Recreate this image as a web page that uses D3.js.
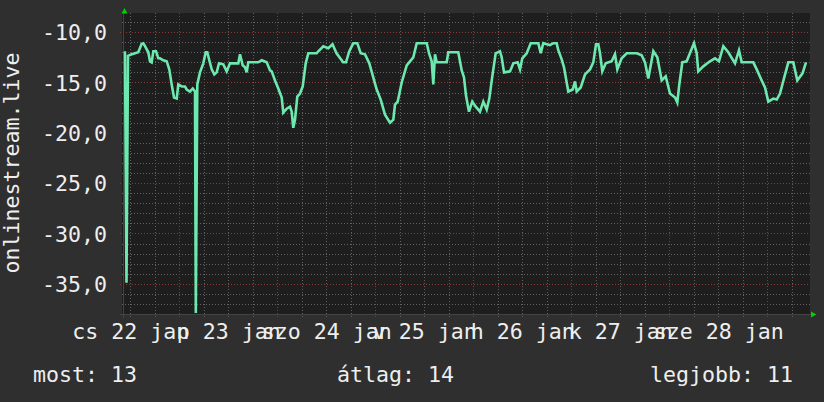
<!DOCTYPE html>
<html><head><meta charset="utf-8">
<script src="https://cdn.jsdelivr.net/npm/d3@7"></script>
<style>
body{margin:0;background:#2f2f2f}
svg{display:block}
text{font-family:"DejaVu Sans Mono",monospace;fill:#eeeeee}
</style>
</head><body>
<svg id="chart" width="824" height="402"></svg>
<script>
// hours after 22 Jan 10:00 and the measured values
const hours = [0.73,1.1,1.47,2.38,3.18,3.99,4.82,5.22,5.63,6.44,6.86,7.27,7.67,8.33,8.89,9.31,10.11,10.95,11.58,12.17,12.74,13.4,13.79,14.62,15.43,15.85,16.65,17.32,17.88,18.08,18.44,19.1,19.91,20.5,20.89,21.38,21.97,22.61,23.19,23.76,24.81,25.64,26.45,28.48,28.9,29.56,30.12,30.54,30.93,33.38,34.21,35.44,36.25,36.66,37.47,38.28,39.11,39.5,40.34,41.15,41.56,41.95,42.37,42.93,43.59,44.26,44.99,45.63,47.68,48.08,49.3,50.53,51.56,52.54,54.16,54.86,55.67,56.65,57.63,58.46,59.51,60.57,61.4,62.38,63.36,64.41,65.64,66.45,66.86,67.52,68.5,69.73,71.34,72.18,74.63,75.19,75.85,76.24,76.66,77.07,79.52,79.92,82.36,83.2,83.76,84.25,84.98,85.79,86.63,87.68,88.49,89.32,89.96,90.69,91.52,92.58,92.99,93.56,95.03,95.84,96.91,97.48,98.04,99.12,100.1,101.96,102.55,103.18,104.82,105.63,106.46,106.85,107.69,108.25,109.3,110.38,110.95,111.36,112.34,113.4,114.62,115.43,116.09,116.65,117.07,117.63,118.46,119.93,120.74,121.31,122.38,123.61,126.06,127.28,128.09,128.9,130.13,131.11,132.18,133.16,134.21,135.44,136.0,136.49,137.23,138.3,139.28,140.09,140.75,141.14,142.37,144.01,145.23,146.21,147.27,148.49,150.13,151.11,151.77,154.61,155.45,156.67,157.48,158.29,159.51,160.35,161.15,162.13,163.19,164.41,165.39,166.67,167.52];
const values = [-11.9,-34.9,-12.35,-12.2,-12.1,-12.0,-11.15,-11.1,-11.4,-12.0,-12.9,-13.0,-11.9,-11.9,-12.6,-12.6,-12.8,-12.9,-13.7,-15.2,-16.5,-16.6,-15.2,-15.4,-15.4,-15.7,-15.9,-15.6,-15.9,-37.9,-15.2,-14.0,-13.1,-12.0,-12.0,-12.8,-13.7,-14.2,-14.0,-13.1,-13.2,-13.9,-13.1,-13.1,-12.2,-13.3,-13.5,-14.0,-13.0,-13.0,-12.8,-13.0,-13.8,-13.9,-14.8,-15.6,-16.5,-18.0,-17.6,-17.4,-17.9,-19.5,-18.7,-16.4,-16.1,-15.4,-13.1,-12.1,-12.1,-11.9,-11.4,-11.6,-11.2,-12.1,-13.0,-13.0,-11.9,-11.1,-11.1,-12.1,-12.2,-13.1,-14.3,-15.7,-16.7,-18.2,-19.0,-18.7,-17.2,-16.9,-15.0,-13.3,-12.5,-11.1,-11.1,-12.1,-12.9,-15.2,-12.2,-13.0,-13.0,-12.0,-12.0,-13.8,-14.5,-16.3,-17.9,-16.9,-17.4,-17.9,-16.9,-17.7,-16.6,-14.4,-12.1,-11.9,-12.5,-14.0,-13.9,-13.1,-13.0,-13.7,-12.6,-12.1,-11.1,-11.1,-12.1,-11.1,-11.3,-11.1,-11.1,-11.8,-12.7,-13.5,-15.9,-15.7,-14.9,-15.9,-15.5,-14.2,-13.7,-13.0,-11.2,-11.2,-12.1,-13.9,-13.1,-12.9,-12.2,-13.7,-12.6,-12.1,-12.1,-12.3,-13.0,-14.6,-11.9,-12.5,-14.8,-14.4,-16.1,-16.5,-17.0,-15.2,-13.0,-12.9,-11.9,-11.1,-12.1,-13.9,-13.4,-12.9,-12.6,-12.9,-11.4,-12.0,-13.1,-11.8,-13.0,-13.0,-13.7,-14.8,-15.5,-16.9,-16.6,-16.7,-16.1,-14.6,-13.0,-13.0,-14.8,-14.1,-13.0];
const yTicks = [-35, -30, -25, -20, -15, -10];
const dayLabels = ["cs 22 jan", "p 23 jan", "szo 24 jan", "v 25 jan", "h 26 jan", "k 27 jan", "sze 28 jan"];
const legendLabels = ["most: 13", "átlag: 14", "legjobb: 11"];
const yTitle = "onlinestream.live";

const HOUR = 3600e3;
const t0 = Date.UTC(2026, 0, 22, 10, 0);
const svg = d3.select("#chart");
const L = 122, R = 810, T = 13, B = 314;
const x = d3.scaleUtc().domain([new Date(t0), new Date(Date.UTC(2026, 0, 29, 10, 30))]).range([L, R]);
const y = d3.scaleLinear().domain([-37.9, -8.2]).range([313, 14]);

svg.append("rect").attr("width", 824).attr("height", 402).attr("fill", "#2f2f2f");
svg.append("rect").attr("x", L).attr("y", T).attr("width", R - L).attr("height", B - T).attr("fill", "#1e1e1e");

// grid
const g = svg.append("g");
const minorY = d3.range(-37, -8).filter(v => v % 5 !== 0);
g.selectAll(".hy").data(minorY).join("line")
  .attr("x1", L).attr("x2", R).attr("y1", d => Math.round(y(d)) + 0.5).attr("y2", d => Math.round(y(d)) + 0.5)
  .attr("stroke", "#616161").attr("stroke-dasharray", "1,2");
const sixH = d3.utcHour.every(6).range(new Date(t0), x.domain()[1]);
const minorX = sixH.filter(d => d.getUTCHours() !== 0);
const majorX = sixH.filter(d => d.getUTCHours() === 0);
g.selectAll(".vx").data(minorX).join("line")
  .attr("y1", T).attr("y2", B + 3).attr("x1", d => Math.round(x(d)) + 0.5).attr("x2", d => Math.round(x(d)) + 0.5)
  .attr("stroke", "#616161").attr("stroke-dasharray", "1,2");
g.selectAll(".my").data(yTicks).join("line")
  .attr("x1", L - 2).attr("x2", R).attr("y1", d => Math.round(y(d)) + 0.5).attr("y2", d => Math.round(y(d)) + 0.5)
  .attr("stroke", "#8a3838").attr("stroke-dasharray", "1,2");
g.selectAll(".mx").data(majorX).join("line")
  .attr("y1", T).attr("y2", B + 4).attr("x1", d => Math.round(x(d)) + 0.5).attr("x2", d => Math.round(x(d)) + 0.5)
  .attr("stroke", "#8a3838").attr("stroke-dasharray", "1,2");

// axes lines
svg.append("line").attr("x1", L + 1.5).attr("x2", L + 1.5).attr("y1", 12).attr("y2", B + 4).attr("stroke", "#444");
svg.append("line").attr("x1", L - 2).attr("x2", R + 2).attr("y1", B + 0.5).attr("y2", B + 0.5).attr("stroke", "#444");

// y labels
svg.append("g").attr("transform", `translate(107,0)`)
  .call(d3.axisLeft(y).tickValues(yTicks).tickSize(0).tickPadding(0).tickFormat(d => d3.format(".1f")(d).replace(".", ",").replace("−", "-")))
  .call(a => a.select(".domain").remove())
  .selectAll("text").attr("font-size", 21.6).attr("font-family", "DejaVu Sans Mono").attr("fill", "#eeeeee").attr("dy", "0.36em");

// x labels at noon
const noons = d3.range(7).map(i => new Date(Date.UTC(2026, 0, 22 + i, 12)));
svg.append("g").attr("transform", `translate(0,339)`)
  .call(d3.axisBottom(x).tickValues(noons).tickSize(0).tickPadding(0).tickFormat((d, i) => dayLabels[i]))
  .call(a => a.select(".domain").remove())
  .selectAll("text").attr("font-size", 21.6).attr("font-family", "DejaVu Sans Mono").attr("fill", "#eeeeee").attr("dy", 0);

// y title
svg.append("text").attr("transform", "translate(18.5,163) rotate(-90)")
  .attr("text-anchor", "middle").attr("font-size", 21.6).text(yTitle);

// data line
const pts = hours.map((h, i) => ({ t: new Date(t0 + h * HOUR), v: values[i] }));
svg.append("path").datum(pts)
  .attr("d", d3.line().x(d => x(d.t)).y(d => y(d.v)))
  .attr("fill", "none").attr("stroke", "#6de8ae").attr("stroke-width", 2.6).attr("stroke-linejoin", "miter");

// arrows
svg.append("path").attr("d", "M121.5,13.5 L124.5,8 L127.5,13.5 Z").attr("fill", "#00d000");
svg.append("path").attr("d", "M811,311.5 L816.5,314.5 L811,317.5 Z").attr("fill", "#00d000");

// legend
const legendX = [33, 337, 650];
svg.selectAll(".leg").data(legendLabels).join("text")
  .attr("x", (d, i) => legendX[i]).attr("y", 382).attr("font-size", 21.6).text(d => d);
</script>
</body></html>
